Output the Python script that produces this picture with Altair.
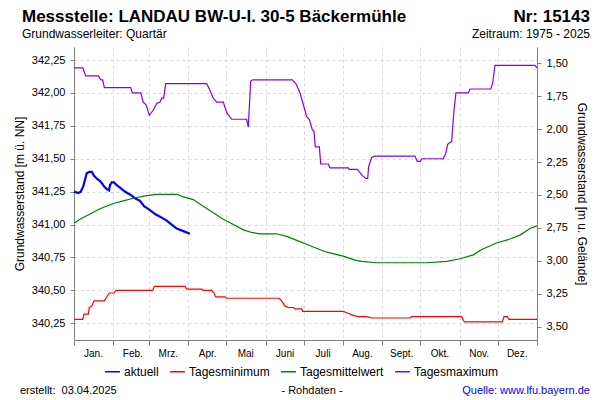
import altair as alt
import pandas as pd

FONT = "Liberation Sans"

months = ['Jan.', 'Feb.', 'Mrz.', 'Apr.', 'Mai', 'Juni', 'Juli', 'Aug.', 'Sept.', 'Okt.', 'Nov.', 'Dez.']
month_start = [0, 31, 59, 90, 120, 151, 181, 212, 243, 273, 304, 334, 365]

left_ticks = [340.25, 340.50, 340.75, 341.00, 341.25, 341.50, 341.75, 342.00, 342.25]
right_ticks = [1.50, 1.75, 2.00, 2.25, 2.50, 2.75, 3.00, 3.25, 3.50]
level_domain = [340.123, 342.349]
ground = 343.725  # Geländehöhe (m ü. NN) for right axis

series_names = ['aktuell', 'Tagesminimum', 'Tagesmittelwert', 'Tagesmaximum']
series_colors = ['#0000ff', '#ff0000', '#008000', '#8000ff']

aktuell_day = [0, 3.4, 5.3, 7.3, 8.7, 10, 12.1, 14, 15.8, 17.9, 20.5, 22.3, 23.6, 25.8, 27.6, 28.4,
               29.7, 31.5, 33.7, 36.3, 38.9, 42, 45.5, 48.1, 52, 55.2, 59.9, 63.9, 67.8, 73.1, 77,
               81, 86.2, 91.4]
aktuell_level = [341.25, 341.24, 341.25, 341.29, 341.34, 341.39, 341.40, 341.40, 341.37, 341.35,
                 341.33, 341.31, 341.29, 341.27, 341.26, 341.30, 341.32, 341.32, 341.30, 341.28,
                 341.26, 341.24, 341.22, 341.20, 341.18, 341.14, 341.11, 341.08, 341.06, 341.03,
                 341.00, 340.97, 340.95, 340.93]

min_day = [0, 6.9, 7.9, 11.3, 12.1, 14, 15.8, 23.9, 25.8, 27.8, 31.5, 33.1, 62, 63.3, 87.5, 88.8,
           100.7, 102, 108.5, 110.4, 111.7, 119, 120.4, 161.8, 163.7, 166.3, 168.9, 172.9, 174.2,
           179.5, 180.3, 212.3, 215, 220.2, 224.1, 230.7, 234.7, 264.9, 266.2, 305.6, 307.7,
           337.6, 339, 341.6, 342.9, 365]
min_level = [340.28, 340.28, 340.32, 340.32, 340.37, 340.38, 340.42, 340.42, 340.45, 340.48,
             340.48, 340.50, 340.50, 340.53, 340.53, 340.51, 340.51, 340.50, 340.50, 340.48,
             340.45, 340.45, 340.44, 340.44, 340.42, 340.38, 340.37, 340.37, 340.36, 340.36,
             340.34, 340.34, 340.33, 340.31, 340.30, 340.30, 340.29, 340.29, 340.30, 340.30,
             340.26, 340.26, 340.30, 340.30, 340.28, 340.28]

mean_day = [0, 4.7, 12.6, 20.5, 31, 38.9, 46.7, 57.3, 65.2, 81, 86.2, 94, 101.9, 109.8, 117.7,
            125.6, 133.5, 140.1, 146.6, 159.8, 167.7, 175.6, 183.4, 188.6, 199.2, 212.3, 221.5,
            226.8, 238.6, 257, 278, 293.8, 304.3, 314.8, 321.4, 333.2, 343.7, 351.6, 359.5, 365]
mean_level = [341.01, 341.04, 341.08, 341.12, 341.16, 341.18, 341.20, 341.22, 341.23, 341.23,
              341.21, 341.19, 341.14, 341.09, 341.04, 341.00, 340.96, 340.94, 340.93, 340.93,
              340.91, 340.88, 340.85, 340.83, 340.79, 340.76, 340.73, 340.72, 340.71, 340.71,
              340.71, 340.72, 340.74, 340.77, 340.81, 340.86, 340.89, 340.92, 340.97, 340.99]

max_day = [0, 7, 9.2, 19.2, 21.3, 22.6, 23.9, 44.7, 46, 52.6, 54.6, 56.8, 59.4, 62.5, 65.2, 67.8,
           69.1, 70.7, 72.3, 104.6, 107.2, 109.8, 112.5, 117.7, 120.4, 124.3, 136.1, 137.4, 139.3,
           140.9, 172.1, 175, 178.2, 180.8, 183.4, 185.5, 187.9, 189.2, 190.2, 193.4, 194.5,
           200.5, 201.8, 216.2, 217, 223.3, 224.9, 227.6, 229.9, 231.5, 232.3, 234.7, 237.3,
           268.8, 270.6, 272.8, 274.3, 291.1, 293, 294.6, 295.8, 297.7, 299.6, 301.1, 310.8,
           312.2, 328.5, 330, 331.9, 363.4, 365]
max_level = [342.19, 342.19, 342.13, 342.13, 342.10, 342.10, 342.04, 342.04, 342.00, 342.00,
             341.93, 341.91, 341.83, 341.87, 341.92, 341.93, 341.96, 341.96, 342.07, 342.07,
             342.02, 341.96, 341.93, 341.93, 341.85, 341.80, 341.80, 341.74, 342.09, 342.10,
             342.10, 342.07, 342.00, 341.91, 341.82, 341.80, 341.72, 341.71, 341.59, 341.59,
             341.46, 341.46, 341.43, 341.43, 341.42, 341.42, 341.40, 341.37, 341.35, 341.35,
             341.44, 341.51, 341.52, 341.52, 341.48, 341.48, 341.50, 341.50, 341.54, 341.61,
             341.62, 341.63, 341.87, 342.00, 342.00, 342.03, 342.03, 342.07, 342.21, 342.21,
             342.19]

frames = []
for name, d, v in [('aktuell', aktuell_day, aktuell_level),
                   ('Tagesminimum', min_day, min_level),
                   ('Tagesmittelwert', mean_day, mean_level),
                   ('Tagesmaximum', max_day, max_level)]:
    frames.append(pd.DataFrame({'day': d, 'level': v, 'series': name, 'order': list(range(len(d)))}))
df = pd.concat(frames, ignore_index=True)

label_list = months + ['']
label_expr = "[" + ",".join("'%s'" % m for m in label_list) + "][indexof([" + \
    ",".join(str(m) for m in month_start) + "], datum.value)]"

GRID = '#d9d9d9'
AXC = '#808080'

x_enc = alt.X('day:Q',
              scale=alt.Scale(domain=[0, 365], nice=False, zero=False),
              axis=alt.Axis(values=month_start, labelExpr=label_expr, labelOffset=19,
                            labelFlush=False, labelOverlap=False, labelFontSize=10,
                            labelPadding=3, tickSize=5, grid=True, gridDash=[3, 3],
                            gridColor=GRID, title=None))

lines = alt.Chart(df).mark_line(interpolate='linear').encode(
    x=x_enc,
    y=alt.Y('level:Q',
            scale=alt.Scale(domain=level_domain, nice=False, zero=False),
            axis=alt.Axis(values=left_ticks, format='.2f',
                          labelExpr="replace(datum.label, '.', ',')",
                          labelFontSize=11, tickSize=4, labelPadding=5,
                          grid=True, gridDash=[3, 3], gridColor=GRID,
                          title='Grundwasserstand [m ü. NN]', titleFontSize=12,
                          titlePadding=5)),
    color=alt.Color('series:N',
                    scale=alt.Scale(domain=series_names, range=series_colors),
                    legend=alt.Legend(title=None, orient='none', direction='horizontal',
                                      legendX=30, legendY=316, symbolType='stroke',
                                      symbolStrokeWidth=1.5, symbolSize=220,
                                      labelFontSize=12, columnPadding=8,
                                      labelOffset=3)),
    strokeWidth=alt.condition(alt.datum.series == 'aktuell', alt.value(2.2), alt.value(1.2)),
    order='order:Q'
)

right_df = pd.DataFrame({'depth': right_ticks})
right_axis = alt.Chart(right_df).mark_point(opacity=0).encode(
    y=alt.Y('depth:Q',
            scale=alt.Scale(domain=[ground - level_domain[1], ground - level_domain[0]],
                            reverse=True, nice=False, zero=False),
            axis=alt.Axis(orient='right', values=right_ticks, format='.2f',
                          labelExpr="replace(datum.label, '.', ',')",
                          labelFontSize=11, tickSize=4, labelPadding=5, grid=False,
                          title='Grundwasserstand [m u. Gelände]', titleFontSize=12,
                          titlePadding=7))
)


def text_layer(txt, x, y, align='left', size=11, weight='normal', color='black'):
    return alt.Chart(pd.DataFrame({'t': [txt]})).mark_text(
        align=align, baseline='alphabetic', font=FONT, fontSize=size,
        fontWeight=weight, color=color
    ).encode(text='t:N', x=alt.value(x), y=alt.value(y))


texts = [
    text_layer('Messstelle: LANDAU BW-U-I. 30-5 Bäckermühle', -52, -25, size=17, weight='bold'),
    text_layer('Nr: 15143', 516, -25, align='right', size=17, weight='bold'),
    text_layer('Grundwasserleiter: Quartär', -52, -9, size=12),
    text_layer('Zeitraum: 1975 - 2025', 516, -9, align='right', size=12),
    text_layer('erstellt:\u00a0 03.04.2025', -54, 347, size=11),
    text_layer('- Rohdaten -', 238, 347, align='center', size=11),
    text_layer('Quelle: www.lfu.bayern.de', 516, 347, align='right', size=11, color='#0000ff'),
]

chart = alt.layer(lines, right_axis, *texts).resolve_scale(y='independent').properties(
    width=463, height=293, autosize='none',
    padding={'left': 66, 'top': 39, 'right': 55, 'bottom': 58}
).configure_view(stroke=None).configure_axis(
    labelFont=FONT, titleFont=FONT, titleFontWeight='normal', titleColor='black',
    labelColor='black', domainColor=AXC, tickColor=AXC
).configure_legend(labelFont=FONT, labelColor='black')

chart.save("out.html", embed_options={"renderer": "svg", "actions": False})
